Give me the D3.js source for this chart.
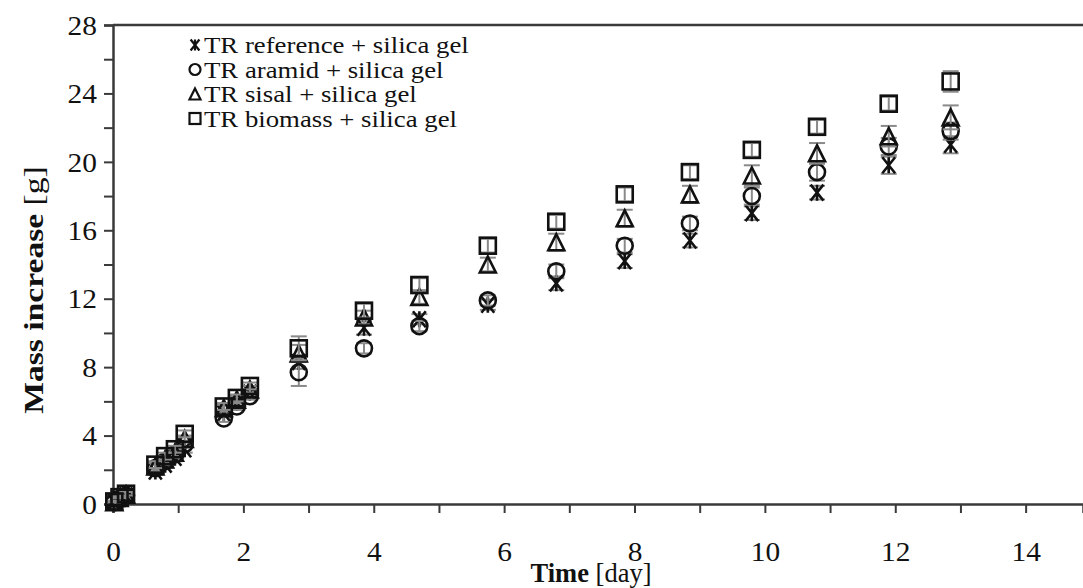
<!DOCTYPE html>
<meta charset="utf-8">
<script src="https://d3js.org/d3.v7.min.js"></script>
<style>
  body { margin: 0; background: #fff; }
  text { font-family: "Liberation Serif", "Times New Roman", serif; fill: #111; }
</style>
<div id="chart"></div>
<script>

// sampling times [day]
var times = [0.02, 0.1, 0.2, 0.65, 0.8, 0.95, 1.1, 1.7, 1.9, 2.1, 2.85, 3.85, 4.7, 5.75, 6.8, 7.85, 8.85, 9.8, 10.8, 11.9, 12.85];

// mass increase [g] per series
var reference = [0.1, 0.3, 0.5, 1.9, 2.3, 2.7, 3.2, 5.3, 5.9, 6.5, 8.3, 10.3, 10.8, 11.65, 12.9, 14.2, 15.4, 17.0, 18.2, 19.8, 21.0];
var aramid    = [0.1, 0.3, 0.5, 2.1, 2.5, 2.9, 3.5, 5.0, 5.7, 6.3, 7.7, 9.1, 10.4, 11.9, 13.6, 15.1, 16.4, 18.0, 19.4, 20.9, 21.8];
var sisal     = [0.1, 0.35, 0.55, 2.2, 2.6, 3.0, 3.8, 5.6, 6.1, 6.7, 8.8, 10.9, 12.1, 14.0, 15.3, 16.7, 18.1, 19.2, 20.5, 21.5, 22.6];
var biomass   = [0.15, 0.4, 0.6, 2.3, 2.8, 3.2, 4.1, 5.7, 6.2, 6.9, 9.1, 11.3, 12.8, 15.1, 16.5, 18.1, 19.4, 20.7, 22.05, 23.4, 24.7];

// standard deviations [g]
var referenceErr = [0.05, 0.05, 0.1, 0.2, 0.2, 0.2, 0.2, 0.2, 0.2, 0.2, 0.4, 0.4, 0.3, 0.3, 0.4, 0.4, 0.4, 0.4, 0.4, 0.5, 0.5];
var aramidErr    = [0.05, 0.05, 0.1, 0.2, 0.2, 0.2, 0.2, 0.2, 0.2, 0.2, 0.8, 0.3, 0.3, 0.3, 0.4, 0.4, 0.4, 0.5, 0.5, 0.5, 0.5];
var sisalErr     = [0.05, 0.05, 0.1, 0.2, 0.2, 0.2, 0.2, 0.2, 0.2, 0.2, 0.5, 0.4, 0.4, 0.4, 0.5, 0.5, 0.5, 0.6, 0.6, 0.6, 0.7];
var biomassErr   = [0.05, 0.05, 0.1, 0.2, 0.2, 0.2, 0.2, 0.2, 0.2, 0.2, 0.7, 0.4, 0.4, 0.4, 0.4, 0.4, 0.4, 0.4, 0.4, 0.4, 0.6];

var seriesNames = ["TR reference + silica gel", "TR aramid + silica gel", "TR sisal + silica gel", "TR biomass + silica gel"];
var seriesShapes = ["star", "circle", "triangle", "square"];

var xTicks = [0, 2, 4, 6, 8, 10, 12, 14];
var yTicks = [0, 4, 8, 12, 16, 20, 24, 28];

var series = [
  {name: seriesNames[0], shape: seriesShapes[0], values: reference, errs: referenceErr},
  {name: seriesNames[1], shape: seriesShapes[1], values: aramid, errs: aramidErr},
  {name: seriesNames[2], shape: seriesShapes[2], values: sisal, errs: sisalErr},
  {name: seriesNames[3], shape: seriesShapes[3], values: biomass, errs: biomassErr}
];

var W = 1083, H = 588;
var margin = {top: 25, right: 0, bottom: 84, left: 113};
var width = W - margin.left - margin.right,
    height = H - margin.top - margin.bottom;

var root = d3.select("#chart")
  .append("svg")
    .attr("width", W)
    .attr("height", H);

var svg = root.append("g")
    .attr("transform", "translate(" + margin.left + "," + margin.top + ")");

var x = d3.scaleLinear().domain([0, 14.88]).range([0, width]);
var y = d3.scaleLinear().domain([0, 28]).range([height, 0]);

var axisColor = "#3a3a3a";
var serif = "Liberation Serif";

// top frame line
svg.append("line")
  .attr("x1", 0).attr("x2", width)
  .attr("y1", 0).attr("y2", 0)
  .attr("stroke", axisColor).attr("stroke-width", 2.5);

// x axis
var xAxis = svg.append("g")
  .attr("transform", "translate(0," + height + ")")
  .call(d3.axisBottom(x).tickValues(d3.range(0, 15, 1)).tickSize(9).tickFormat(function(d) { return xTicks.indexOf(d) >= 0 ? d : ""; }));
xAxis.select(".domain").attr("stroke", axisColor).attr("stroke-width", 2.5);
xAxis.selectAll(".tick line").attr("stroke", axisColor).attr("stroke-width", 2);
xAxis.selectAll(".tick text")
  .attr("font-size", 28).attr("font-family", serif)
  .attr("dy", 0).attr("y", 0)
  .attr("transform", "translate(0,57) scale(1.05,1)");

// y axis
var yAxis = svg.append("g")
  .call(d3.axisLeft(y).tickValues(d3.range(0, 29, 2)).tickSize(9).tickFormat(function(d) { return yTicks.indexOf(d) >= 0 ? d : ""; }));
yAxis.select(".domain").attr("stroke", axisColor).attr("stroke-width", 2.5);
yAxis.selectAll(".tick line").attr("stroke", axisColor).attr("stroke-width", 2);
yAxis.selectAll(".tick text")
  .attr("font-size", 28).attr("font-family", serif)
  .attr("x", 0).attr("dy", "0.33em")
  .attr("transform", "translate(-16,0) scale(1.05,1)");

// axis titles
root.append("text")
  .attr("transform", "translate(591,582)")
  .attr("text-anchor", "middle")
  .attr("font-family", serif)
  .attr("font-size", 26.5)
  .html('<tspan font-weight="bold">Time</tspan> [day]');

root.append("text")
  .attr("transform", "translate(43,290) rotate(-90) scale(1.2,1)")
  .attr("text-anchor", "middle")
  .attr("font-family", serif)
  .attr("font-size", 28)
  .html('<tspan font-weight="bold">Mass increase</tspan> [g]');

// marker shapes
var ms = 8;
function drawMarker(g, shape, s) {
  if (shape === "square") {
    g.append("rect").attr("x", -s).attr("y", -s).attr("width", 2 * s).attr("height", 2 * s);
  } else if (shape === "circle") {
    g.append("circle").attr("r", s);
  } else if (shape === "triangle") {
    g.append("path").attr("d", "M0," + (-s) + "L" + s + "," + s + "L" + (-s) + "," + s + "Z");
  } else {
    g.append("path").attr("d",
      "M" + (-s * 0.8) + "," + (-s) + "L" + (s * 0.8) + "," + s +
      "M" + (s * 0.8) + "," + (-s) + "L" + (-s * 0.8) + "," + s +
      "M0," + (-s) + "L0," + s);
  }
}

// error bars then markers
series.forEach(function(sr) {
  var pts = times.map(function(t, i) { return {t: t, v: sr.values[i], e: sr.errs[i]}; });

  var eb = svg.append("g").attr("stroke", "#8a8a8a").attr("stroke-width", 2);
  pts.forEach(function(p) {
    eb.append("line")
      .attr("x1", x(p.t)).attr("x2", x(p.t))
      .attr("y1", y(p.v - p.e)).attr("y2", y(p.v + p.e));
    [p.v - p.e, p.v + p.e].forEach(function(v) {
      eb.append("line")
        .attr("x1", x(p.t) - 8).attr("x2", x(p.t) + 8)
        .attr("y1", y(v)).attr("y2", y(v));
    });
  });

  var mg = svg.append("g")
    .attr("fill", "none").attr("stroke", "#111").attr("stroke-width", 2.6);
  pts.forEach(function(p) {
    var g = mg.append("g").attr("transform", "translate(" + x(p.t) + "," + y(p.v) + ")");
    drawMarker(g, sr.shape, ms);
  });
});

// legend
var legend = root.append("g").attr("transform", "translate(195,45)");
series.forEach(function(sr, i) {
  var row = legend.append("g").attr("transform", "translate(0," + (i * 24.5) + ")");
  var m = row.append("g").attr("fill", "none").attr("stroke", "#111").attr("stroke-width", 2.2);
  drawMarker(m, sr.shape, 5.5);
  row.append("text")
    .attr("transform", "translate(9,8) scale(1.19,1)")
    .attr("font-family", serif)
    .attr("font-size", 22.5)
    .text(sr.name);
});

</script>
